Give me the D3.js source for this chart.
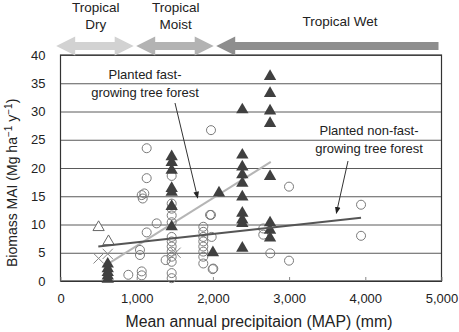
<!DOCTYPE html>
<html>
<head>
<meta charset="utf-8">
<script src="https://cdn.jsdelivr.net/npm/d3@7"></script>
<style>
  body { margin: 0; background: #fff; }
  text { font-family: "Liberation Sans", Arial, sans-serif; fill: #222; }
</style>
</head>
<body>
<div id="chart"></div>
<script>
// climate zones shown as arrows above the plot (MAP in mm)
const zoneNames = ["Tropical Dry", "Tropical Moist", "Tropical Wet"];
const zoneFrom = [-50, 1000, 2050];
const zoneTo = [1000, 2050, 5000];

const xTicks = [0, 1000, 2000, 3000, 4000, 5000];
const yTicks = [0, 5, 10, 15, 20, 25, 30, 35, 40];

// planted fast-growing tree forest (filled triangles): [MAP mm, MAI]
const fastTri = [
  [620, 0.3], [620, 0.9], [620, 1.5], [620, 2.2], [620, 3.0],
  [1459, 22.0], [1459, 21.0], [1459, 19.6], [1459, 16.4], [1459, 15.7], [1459, 13.2], [1459, 9.6],
  [2000, 5.0], [2080, 15.6],
  [2386, 30.3], [2386, 22.3], [2386, 20.2], [2386, 18.8], [2386, 17.3], [2386, 14.9],
  [2386, 12.0], [2386, 10.8], [2386, 10.2], [2386, 5.8],
  [2750, 36.2], [2750, 33.2], [2750, 30.1], [2750, 27.9], [2750, 18.5], [2750, 10.3], [2750, 9.0], [2750, 7.6]
];

// open triangles and crosses (dry zone / other records)
const openTri = [[500, 9.5], [630, 7.0]];
const crosses = [[500, 4.0], [620, 4.8], [1510, 5.0]];

// planted non-fast-growing tree forest (open circles)
const circles = [
  [1131, 23.5], [1975, 26.7], [2999, 16.7], [3944, 13.5], [3944, 8.0], [2999, 3.6], [2753, 4.9],
  [2661, 9.3], [2661, 8.2], [1975, 11.7], [1997, 2.1],
  [1131, 18.2], [1100, 15.5], [1066, 15.2], [1079, 14.6], [1262, 10.2], [1131, 8.6],
  [1043, 5.5], [1043, 4.6], [890, 1.1], [1066, 1.7], [1066, 1.0],
  [1459, 18.6], [1459, 13.7], [1459, 12.8], [1459, 11.6], [1459, 10.4], [1459, 7.8], [1459, 7.0],
  [1459, 6.1], [1459, 5.2], [1459, 4.3], [1459, 3.4], [1459, 1.4], [1459, 0.5], [1380, 3.7],
  [1874, 9.6], [1874, 8.7], [1874, 7.8], [1874, 7.0], [1874, 6.1], [1874, 5.2], [1874, 4.3], [1874, 3.1],
  [1962, 11.7], [1984, 7.8], [2005, 2.2]
];

// fitted lines: [[x1,y1],[x2,y2]]
const fastLine = [[560, 2.5], [2760, 21.1]];
const nonFastLine = [[496, 6.1], [3944, 11.2]];

const W = 459, H = 332;
const margin = {top: 55, right: 17.5, bottom: 51, left: 60.5};

const svg = d3.select("#chart").append("svg")
  .attr("width", W).attr("height", H);

const x = d3.scaleLinear().domain([0, 5000]).range([margin.left, W - margin.right]);
const y = d3.scaleLinear().domain([0, 40]).range([H - margin.bottom, margin.top]);

// gridlines + y labels
const yAxis = d3.axisLeft(y).tickValues(yTicks).tickSize(-(x(5000) - x(0))).tickPadding(15);
const gy = svg.append("g").attr("transform", `translate(${x(0)},0)`).call(yAxis);
gy.select(".domain").remove();
gy.selectAll("line").attr("stroke", "#5a5a5a");
gy.selectAll("text").attr("font-size", 13).attr("fill", "#222");

// frame
svg.append("rect")
  .attr("x", x(0)).attr("y", y(40))
  .attr("width", x(5000) - x(0)).attr("height", y(0) - y(40))
  .attr("fill", "none").attr("stroke", "#333").attr("stroke-width", 1.2);

// x axis
const xAxis = d3.axisBottom(x).tickValues(xTicks).tickSizeInner(-4).tickSizeOuter(0)
  .tickPadding(13).tickFormat(d3.format(","));
const gx = svg.append("g").attr("transform", `translate(0,${y(0)})`).call(xAxis);
gx.select(".domain").attr("stroke", "#333");
gx.selectAll("line").attr("stroke", "#888");
gx.selectAll("text").attr("font-size", 13).attr("fill", "#222");

// axis titles
svg.append("text").attr("x", 259).attr("y", 327).attr("text-anchor", "middle")
  .attr("font-size", 15.8).text("Mean annual precipitaion (MAP) (mm)");

const yt = svg.append("text").attr("transform", "translate(17,267) rotate(-90)")
  .attr("text-anchor", "start").attr("font-size", 14);
yt.append("tspan").text("Biomass MAI (Mg ha");
yt.append("tspan").attr("dy", -5).attr("font-size", 10).text("\u22121");
yt.append("tspan").attr("dy", 5).text(" y");
yt.append("tspan").attr("dy", -5).attr("font-size", 10).text("\u22121");
yt.append("tspan").attr("dy", 5).text(")");

// zone arrows
const zoneFill = ["#d2d2d2", "#b3b3b3", "#8e8e8e"];
const ay = 46, sh = 4, hh = 9.5, hl = 19;
function arrowPath(x1, x2, leftHead, rightHead) {
  const p = d3.path();
  if (leftHead) { p.moveTo(x1, ay); p.lineTo(x1 + hl, ay - hh); p.lineTo(x1 + hl, ay - sh); }
  else { p.moveTo(x1, ay - sh); }
  if (rightHead) { p.lineTo(x2 - hl, ay - sh); p.lineTo(x2 - hl, ay - hh); p.lineTo(x2, ay);
    p.lineTo(x2 - hl, ay + hh); p.lineTo(x2 - hl, ay + sh); }
  else { p.lineTo(x2, ay - sh); p.lineTo(x2, ay + sh); }
  if (leftHead) { p.lineTo(x1 + hl, ay + sh); p.lineTo(x1 + hl, ay + hh); p.closePath(); }
  else { p.lineTo(x1, ay + sh); p.closePath(); }
  return p.toString();
}
svg.append("g").selectAll("path")
  .data(zoneNames)
  .join("path")
  .attr("d", (d, i) => arrowPath(x(zoneFrom[i]) - 0.5, x(zoneTo[i]) - 3, true, i < 2))
  .attr("fill", (d, i) => zoneFill[i]);

// zone labels
const zl = svg.append("g").selectAll("text").data(zoneNames).join("text")
  .attr("text-anchor", "middle").attr("font-size", 13.5)
  .attr("x", (d, i) => i < 2 ? (x(zoneFrom[i]) + x(zoneTo[i])) / 2 - 1 : 340);
zl.each(function (d, i) {
  const t = d3.select(this);
  if (i < 2) {
    const parts = d.split(" ");
    t.append("tspan").attr("x", t.attr("x")).attr("y", 12).text(parts[0]);
    t.append("tspan").attr("x", t.attr("x")).attr("y", 29).text(parts[1]);
  } else {
    t.attr("y", 26).text(d);
  }
});

// fitted lines
const line = d3.line().x(d => x(d[0])).y(d => y(d[1]));
svg.append("path").attr("d", line(fastLine)).attr("stroke", "#b5b5b5").attr("stroke-width", 2).attr("fill", "none");

// circles
svg.append("g").selectAll("circle").data(circles).join("circle")
  .attr("cx", d => x(d[0])).attr("cy", d => y(d[1])).attr("r", 4.5)
  .attr("fill", "none").attr("stroke", "#7a7a7a").attr("stroke-width", 1);

// open triangles
const tri = d3.symbol().type(d3.symbolTriangle).size(55);
svg.append("g").selectAll("path").data(openTri).join("path")
  .attr("transform", d => `translate(${x(d[0])},${y(d[1])})`)
  .attr("d", tri).attr("fill", "#fff").attr("stroke", "#666");

// crosses
const cr = d3.symbol().type(d3.symbolX).size(70);
svg.append("g").selectAll("path").data(crosses).join("path")
  .attr("transform", d => `translate(${x(d[0])},${y(d[1])})`)
  .attr("d", cr).attr("fill", "none").attr("stroke", "#888");

// filled triangles
svg.append("g").selectAll("path").data(fastTri).join("path")
  .attr("transform", d => `translate(${x(d[0])},${y(d[1])})`)
  .attr("d", d3.symbol().type(d3.symbolTriangle).size(66)).attr("fill", "#404040");

svg.append("path").attr("d", line(nonFastLine)).attr("stroke", "#555").attr("stroke-width", 2).attr("fill", "none");

// annotations
svg.append("defs").append("marker").attr("id", "ah")
  .attr("viewBox", "0 0 10 10").attr("refX", 9).attr("refY", 5)
  .attr("markerWidth", 7).attr("markerHeight", 7).attr("orient", "auto")
  .append("path").attr("d", "M0,1 L10,5 L0,9 Z").attr("fill", "#222");

function note(lines, cx, y0, from, to) {
  const t = svg.append("text").attr("text-anchor", "middle").attr("font-size", 13);
  lines.forEach((s, i) => t.append("tspan").attr("x", cx).attr("y", y0 + i * 17.5).text(s));
  svg.append("line").attr("x1", from[0]).attr("y1", from[1]).attr("x2", to[0]).attr("y2", to[1])
    .attr("stroke", "#333").attr("stroke-width", 1).attr("marker-end", "url(#ah)");
}
note(["Planted fast-", "growing tree forest"], 145, 79, [175, 103], [x(1800), y(14.7)]);
note(["Planted non-fast-", "growing tree forest"], 369, 135, [348, 161], [x(3620), y(12.0)]);
</script>
</body>
</html>
